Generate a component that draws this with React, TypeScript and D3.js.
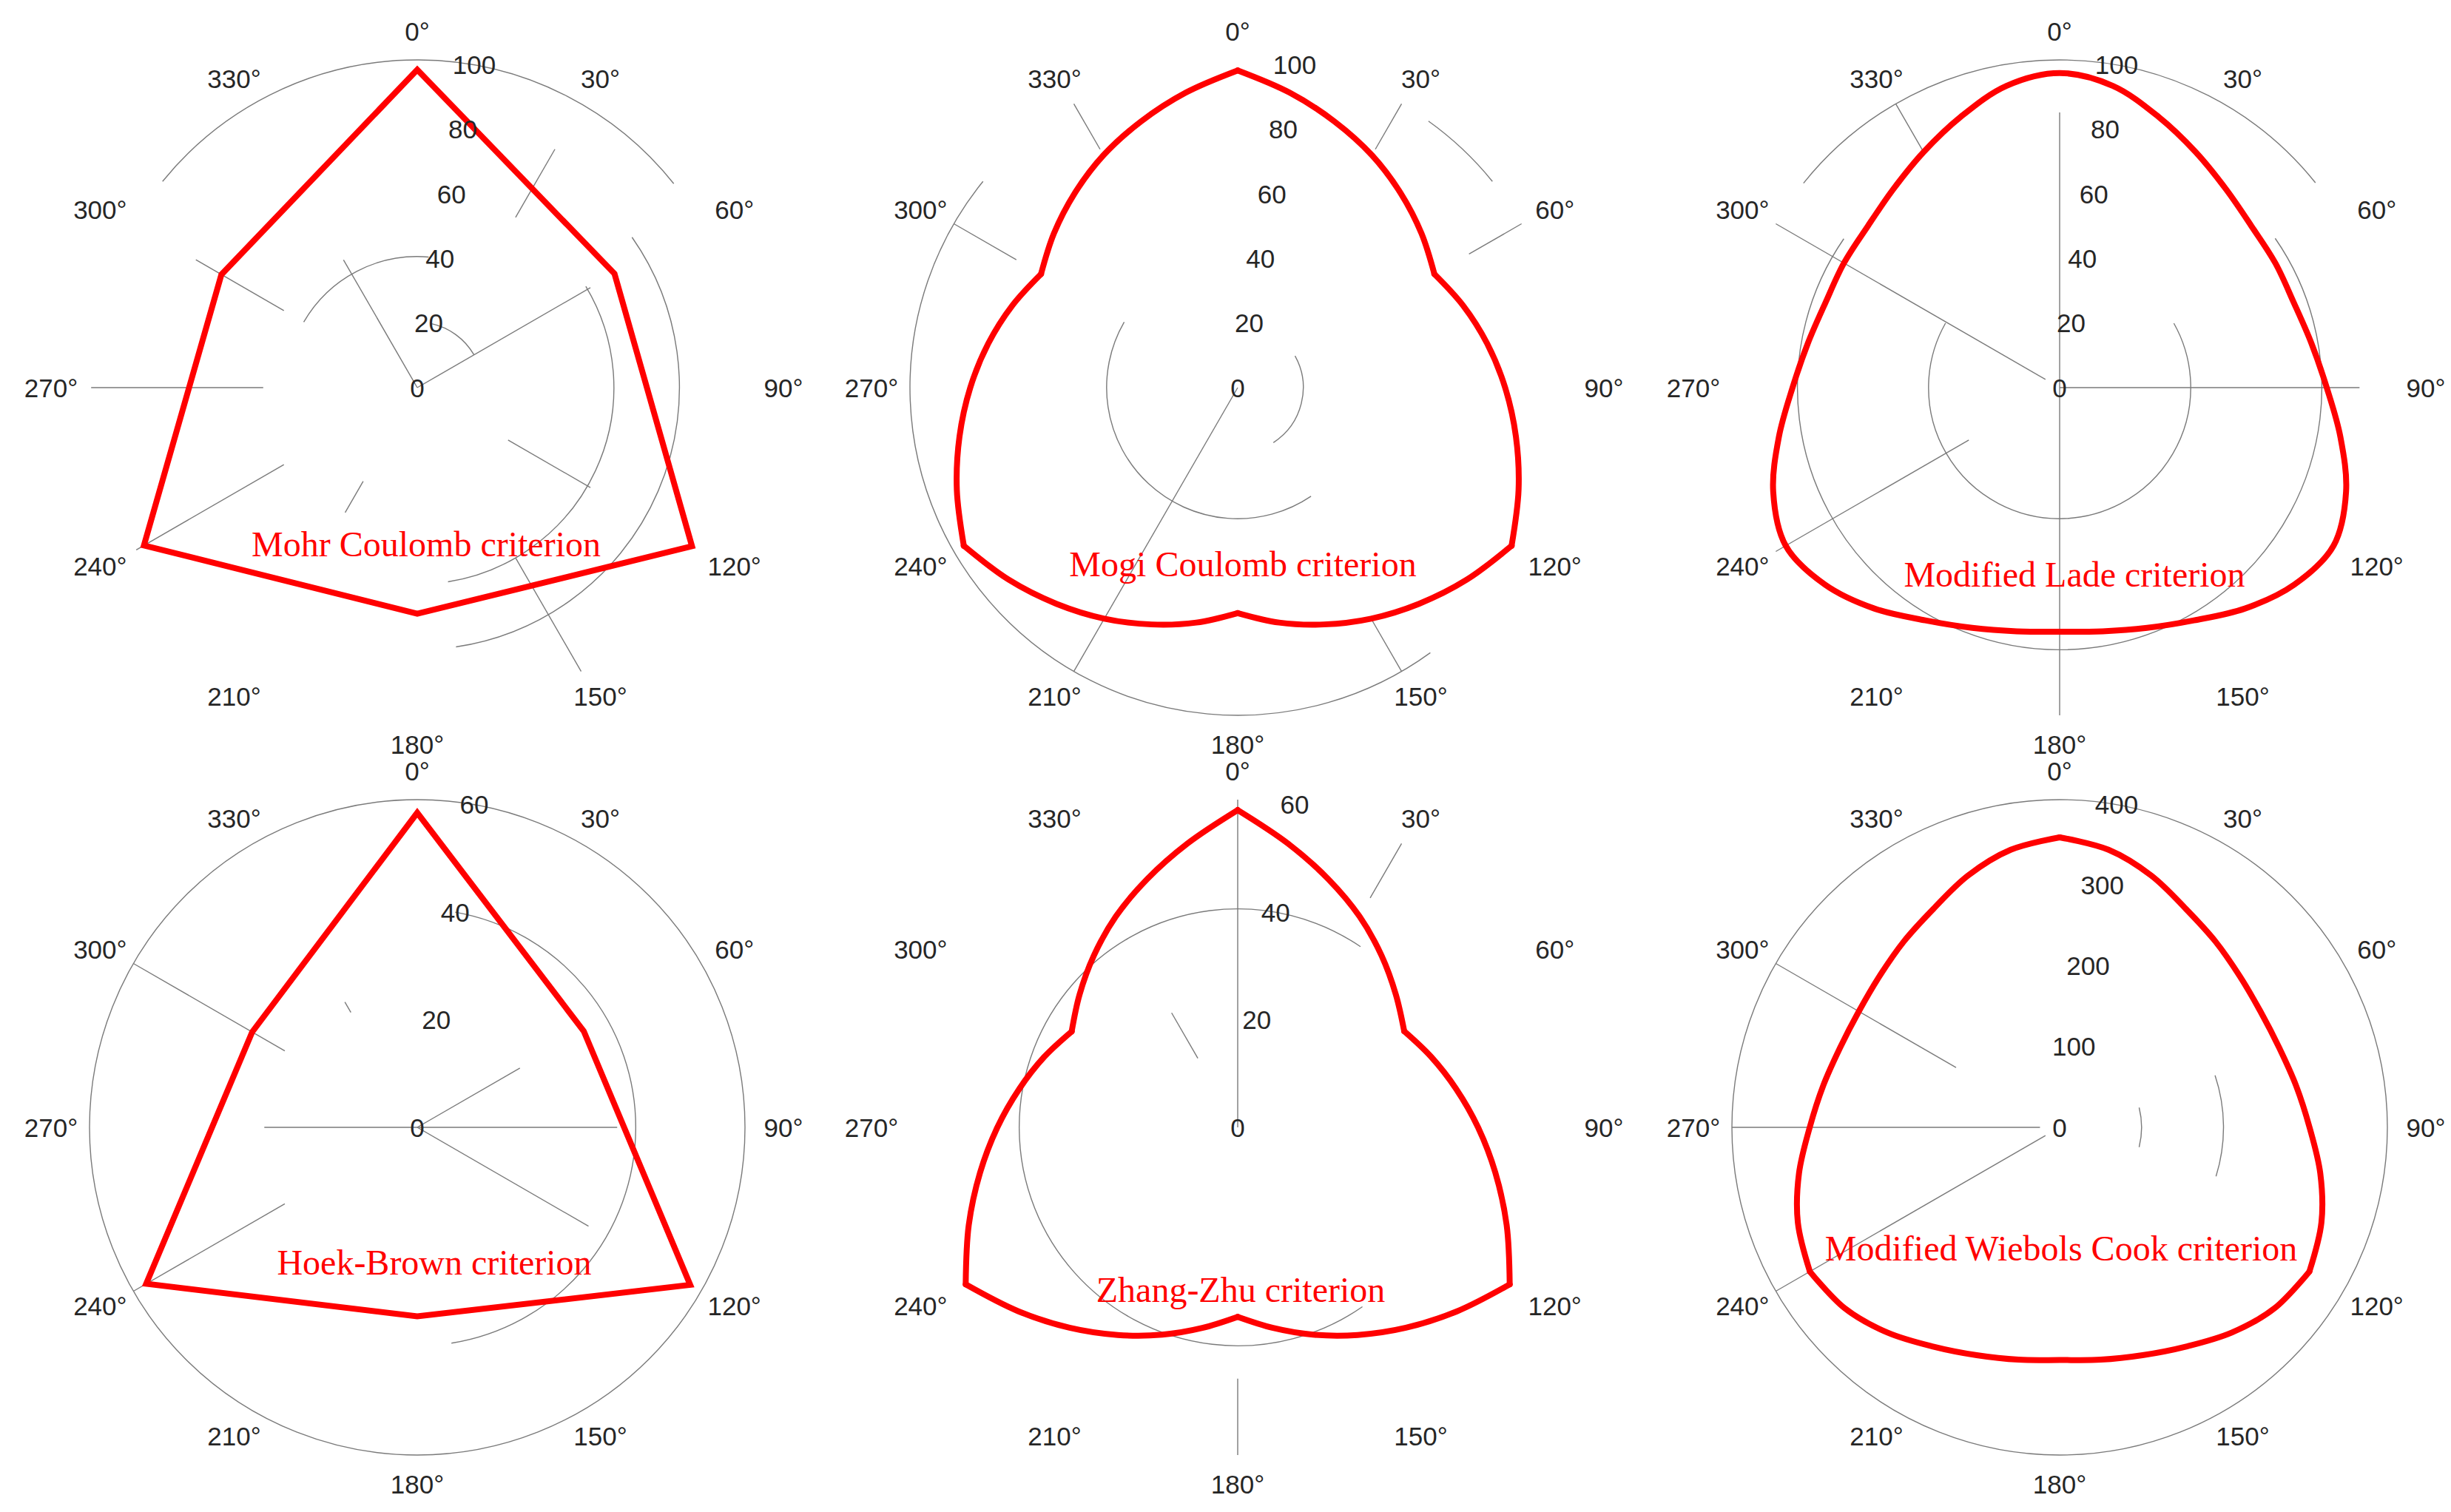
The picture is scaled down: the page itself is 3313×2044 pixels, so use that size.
import * as d3 from "d3"

const WIDTH = 3313
const HEIGHT = 2044
const RADIUS = 443

const centersX = [564, 1673, 2784]
const centersY = [524, 1524]

const angleTicks = [0, 30, 60, 90, 120, 150, 180, 210, 240, 270, 300, 330]

const titles = [
  "Mohr Coulomb criterion",
  "Mogi Coulomb criterion",
  "Modified Lade criterion",
  "Hoek-Brown criterion",
  "Zhang-Zhu criterion",
  "Modified Wiebols Cook criterion",
]
const radialMax = [100, 100, 100, 60, 60, 400]
const radialTicks = [
  [0, 20, 40, 60, 80, 100],
  [0, 20, 40, 60, 80, 100],
  [0, 20, 40, 60, 80, 100],
  [0, 20, 40, 60],
  [0, 20, 40, 60],
  [0, 100, 200, 300, 400],
]

// corner angles of the two polygon criteria
const hexAngles = [0, 60, 120, 180, 240, 300]
const mohrCoulomb = [97, 69.5, 96.8, 69, 96.3, 69]
const hoekBrown = [57.6, 35.2, 57.7, 34.6, 57.3, 34.9]

// smooth criteria, read every 10 degrees
const curveAngles = [
  0, 10, 20, 30, 40, 50, 60, 70, 80, 90, 100, 110, 120, 130, 140, 150, 160, 170,
  180, 190, 200, 210, 220, 230, 240, 250, 260, 270, 280, 290, 300, 310, 320, 330, 340, 350,
]
const mogiCoulomb = [
  96.8, 91.4, 86.4, 81.9, 77.4, 73.2, 69.3, 73.2, 77.3, 81.6, 86.2, 91.2, 96.5, 91.2, 86.1, 81.4, 76.9, 72.8,
  68.8, 72.8, 76.9, 81.4, 86.1, 91.2, 96.5, 91.2, 86.2, 81.6, 77.3, 73.2, 69.3, 73.2, 77.4, 81.9, 86.4, 91.4,
]
const modifiedLade = [
  96, 93.5, 88, 83, 79, 76.5, 76, 76, 78, 81.5, 87, 93, 96.5, 93.5, 88, 82, 78, 75.5,
  74.5, 75.5, 78, 82, 88, 93.5, 96.5, 93, 87, 81.5, 78, 76, 76, 76.5, 79, 83, 88, 93.5,
]
const zhangZhu = [
  58.1, 52.8, 48.4, 44.6, 41, 37.8, 35.2, 37.7, 40.6, 44, 47.9, 52.4, 57.5, 52.4, 47.9, 43.9, 40.4, 37.3,
  34.7, 37.3, 40.4, 43.9, 47.9, 52.4, 57.5, 52.4, 47.9, 44, 40.6, 37.7, 35.1, 37.8, 41, 44.6, 48.4, 52.8,
]
const wiebolsCook = [
  354, 344, 327, 308, 296, 287, 283, 285, 293, 305, 323, 340, 352, 343, 327, 309, 296, 288,
  284, 288, 296, 309, 327, 343, 352, 340, 323, 305, 293, 285, 283, 287, 296, 308, 327, 344,
]

const seriesAngles = [hexAngles, curveAngles, curveAngles, hexAngles, curveAngles, curveAngles]
const seriesValues = [mohrCoulomb, mogiCoulomb, modifiedLade, hoekBrown, zhangZhu, wiebolsCook]
// where the curve has a sharp corner (null = one smooth closed line)
const seriesCorners = [
  "linear",
  [0, 60, 120, 180, 240, 300],
  null,
  "linear",
  [0, 60, 120, 180, 240, 300],
  [0, 120, 240],
]

// pieces of the grid that are visible: [radius value, from deg, to deg]
const ringArcs = [
  [[100, -51, 51.5], [80, 55, 171.5], [60, 59, 171], [40, -60, 5], [20, 12, 60]],
  [[100, 144, 309], [100, 35.6, 51], [40, 146, 300], [20, 61, 147]],
  [[100, -51.4, 51.3], [80, 55.3, 304.6], [40, 60.6, 299.5]],
  [[60, 0, 360], [40, 10, 171]],
  [[40, 145.2, 394.2]],
  [[400, 0, 360], [100, 76, 104], [200, 71.5, 107.4]],
]
// spokes: [angle deg, from value, to value]
const spokes = [
  [[30, 60, 84], [60, 0, 61], [330, 0, 45], [300, 47, 78], [270, 47, 99.5], [240, 47, 99], [210, 33, 44], [150, 60, 100], [120, 32, 61]],
  [[330, 84, 100], [30, 84, 100], [60, 81.5, 100], [300, 78, 100], [210, 0, 100], [150, 81, 100]],
  [[0, 0, 84], [180, 0, 100], [90, 0, 91.5], [330, 83, 100], [300, 5, 100], [240, 32, 100]],
  [[330, 24.3, 26.5], [300, 28, 60], [270, 0, 28], [90, 0, 36.6], [60, 0, 21.7], [120, 0, 36.2], [240, 28, 60]],
  [[330, 14.6, 24.2], [0, 0, 60], [180, 46, 60], [30, 48.5, 60]],
  [[300, 146, 400], [270, 24, 400], [240, 20, 400]],
]

// title placement relative to the panel centre: [dx, baseline dy]
const titleOffsets = [[12, 228], [7, 255], [20, 269], [23, 199], [4, 236], [2, 180]]

const rad = (deg: number) => (deg * Math.PI) / 180
const textColor = "#262626"
const gridColor = "#7a7a7a"
const labelRx = 495
const labelRy = 482

function Panel({ i }: { i: number }) {
  const cx = centersX[i % 3]
  const cy = centersY[Math.floor(i / 3)]
  const r = d3.scaleLinear().domain([0, radialMax[i]]).range([0, RADIUS])

  const arcPath = (v: number, a0: number, a1: number) => {
    const p = d3.path()
    const rr = r(v)
    const s = rad(a0 - 90)
    const e = rad(a1 - 90)
    p.moveTo(rr * Math.cos(s), rr * Math.sin(s))
    p.arc(0, 0, rr, s, e)
    return p.toString()
  }

  const pts: [number, number][] = seriesAngles[i].map((a, k) => [a, seriesValues[i][k]])
  const line = d3
    .lineRadial<[number, number]>()
    .angle((d) => rad(d[0]))
    .radius((d) => r(d[1]))

  const corners = seriesCorners[i]
  let curvePaths: string[] = []
  if (corners === "linear") {
    curvePaths = [line.curve(d3.curveLinearClosed)(pts) as string]
  } else if (corners === null) {
    curvePaths = [line.curve(d3.curveCatmullRomClosed.alpha(0.5))(pts) as string]
  } else {
    const all = [...pts, [360, pts[0][1]] as [number, number]]
    const cs = [...(corners as number[]), 360]
    for (let k = 0; k < cs.length - 1; k++) {
      const seg = all.filter((d) => d[0] >= cs[k] && d[0] <= cs[k + 1])
      curvePaths.push(line.curve(d3.curveCatmullRom.alpha(0.5))(seg) as string)
    }
  }

  return (
    <g transform={`translate(${cx},${cy})`}>
      {ringArcs[i].map(([v, a0, a1], k) => (
        <path key={`ring${k}`} d={arcPath(v, a0, a1)} fill="none" stroke={gridColor} strokeWidth={1.4} />
      ))}
      {spokes[i].map(([a, v0, v1], k) => (
        <line
          key={`spoke${k}`}
          x1={r(v0) * Math.sin(rad(a))}
          y1={-r(v0) * Math.cos(rad(a))}
          x2={r(v1) * Math.sin(rad(a))}
          y2={-r(v1) * Math.cos(rad(a))}
          stroke={gridColor}
          strokeWidth={1.4}
        />
      ))}
      {curvePaths.map((d, k) => (
        <path
          key={`curve${k}`}
          d={d}
          fill="none"
          stroke="#ff0000"
          strokeWidth={8}
          strokeLinejoin={corners === "linear" ? "miter" : "round"}
          strokeLinecap="round"
        />
      ))}
      {angleTicks.map((a) => (
        <text
          key={`ang${a}`}
          x={labelRx * Math.sin(rad(a))}
          y={-labelRy * Math.cos(rad(a))}
          textAnchor="middle"
          dominantBaseline="central"
          fontFamily="'Liberation Sans', Arial, sans-serif"
          fontSize={35}
          fill={textColor}
        >
          {`${a}°`}
        </text>
      ))}
      {radialTicks[i].map((t) => (
        <text
          key={`rt${t}`}
          x={r(t) * Math.sin(rad(10))}
          y={-r(t) * Math.cos(rad(10))}
          textAnchor="middle"
          dominantBaseline="central"
          fontFamily="'Liberation Sans', Arial, sans-serif"
          fontSize={35}
          fill={textColor}
        >
          {t}
        </text>
      ))}
      <text
        x={titleOffsets[i][0]}
        y={titleOffsets[i][1]}
        textAnchor="middle"
        fontFamily="'Liberation Serif', 'Times New Roman', serif"
        fontSize={48}
        fill="#ff0000"
      >
        {titles[i]}
      </text>
    </g>
  )
}

export default function App() {
  return (
    <svg
      width={WIDTH}
      height={HEIGHT}
      style={{ position: "absolute", left: 0, top: 0, background: "#fff" }}
    >
      <rect width={WIDTH} height={HEIGHT} fill="#fff" />
      {titles.map((_, i) => (
        <Panel key={i} i={i} />
      ))}
    </svg>
  )
}
